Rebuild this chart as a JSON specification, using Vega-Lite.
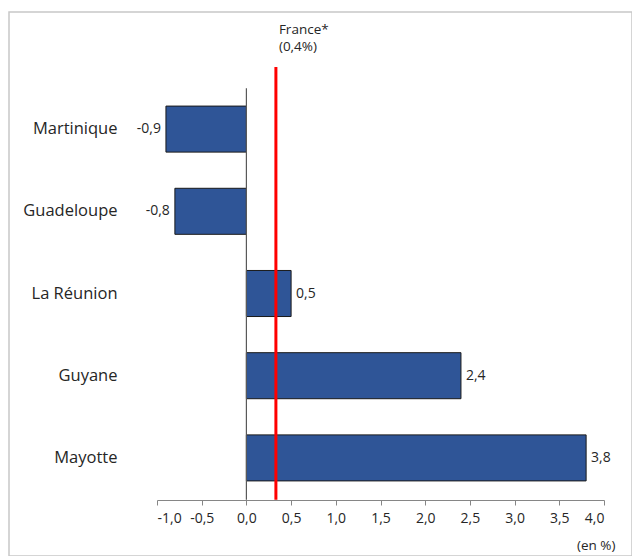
{
  "$schema": "https://vega.github.io/schema/vega-lite/v6.json",
  "width": 623,
  "height": 544,
  "autosize": {"type": "none"},
  "padding": {"left": 9, "top": 12, "right": 0, "bottom": 0},
  "config": {
    "locale": {"number": {"decimal": ",", "thousands": " ", "grouping": [3], "currency": ["", " €"], "minus": "-"}},
    "view": {"stroke": "#c8c8c8", "strokeWidth": 1.5},
    "font": "Open Sans",
    "text": {"font": "Open Sans", "color": "#262626"}
  },
  "datasets": {
    "bars": [
      {"territoire": "Martinique", "v": -0.9},
      {"territoire": "Guadeloupe", "v": -0.8},
      {"territoire": "La Réunion", "v": 0.5},
      {"territoire": "Guyane", "v": 2.4},
      {"territoire": "Mayotte", "v": 3.8}
    ],
    "ref": [{"x": 0.33, "label": "France*\n(0,4%)"}],
    "zero": [{"x": 0}]
  },
  "layer": [
    {
      "data": {"name": "bars"},
      "mark": {"type": "bar", "fill": "#2F5597", "stroke": "#1a1a1a", "strokeWidth": 1},
      "encoding": {
        "y": {
          "field": "territoire", "type": "nominal", "sort": null,
          "scale": {"domain": ["Martinique", "Guadeloupe", "La Réunion", "Guyane", "Mayotte"], "range": [76, 487], "paddingInner": 0.44, "paddingOuter": 0.22},
          "axis": {"title": null, "domain": false, "ticks": false, "offset": -110, "labelPadding": 2, "labelFontSize": 16.5, "labelColor": "#262626", "labelFont": "Open Sans"}
        },
        "x": {
          "field": "v", "type": "quantitative",
          "scale": {"domain": [-1, 4], "range": [148, 595], "nice": false, "zero": false},
          "axis": {
            "values": [-1, -0.5, 0, 0.5, 1, 1.5, 2, 2.5, 3, 3.5, 4],
            "format": ".1f", "grid": false, "offset": -56,
            "domainColor": "#868686", "tickColor": "#868686", "tickSize": 5,
            "labelFontSize": 14, "labelColor": "#262626", "labelPadding": 6, "labelFont": "Open Sans",
            "title": "(en %)", "titleFontSize": 13.5, "titleFontWeight": "normal", "titleColor": "#262626", "titleFont": "Open Sans",
            "titleX": 606, "titleY": 45, "titleAlign": "right", "titleBaseline": "middle", "titleAnchor": null
          }
        }
      }
    },
    {
      "data": {"name": "zero"},
      "mark": {"type": "rule", "color": "#595959", "strokeWidth": 1.2},
      "encoding": {
        "x": {"field": "x", "type": "quantitative"},
        "y": {"datum": "Martinique", "bandPosition": -0.39},
        "y2": {"datum": "Mayotte", "bandPosition": 1.41}
      }
    },
    {
      "data": {"name": "bars"},
      "transform": [{"filter": "datum.v >= 0"}],
      "mark": {"type": "text", "align": "left", "dx": 5, "fontSize": 14},
      "encoding": {
        "y": {"field": "territoire", "type": "nominal", "sort": null},
        "x": {"field": "v", "type": "quantitative"},
        "text": {"field": "v", "type": "quantitative", "format": ".1f"}
      }
    },
    {
      "data": {"name": "bars"},
      "transform": [{"filter": "datum.v < 0"}],
      "mark": {"type": "text", "align": "right", "dx": -5, "fontSize": 14},
      "encoding": {
        "y": {"field": "territoire", "type": "nominal", "sort": null},
        "x": {"field": "v", "type": "quantitative"},
        "text": {"field": "v", "type": "quantitative", "format": ".1f"}
      }
    },
    {
      "data": {"name": "ref"},
      "mark": {"type": "rule", "color": "#FF0000", "strokeWidth": 3},
      "encoding": {
        "x": {"field": "x", "type": "quantitative"},
        "y": {"datum": "Martinique", "bandPosition": -0.85},
        "y2": {"datum": "Mayotte", "bandPosition": 1.41}
      }
    },
    {
      "data": {"name": "ref"},
      "mark": {"type": "text", "align": "left", "baseline": "middle", "dx": 3, "fontSize": 13.5, "lineBreak": "\n", "lineHeight": 17},
      "encoding": {
        "x": {"field": "x", "type": "quantitative"},
        "y": {"datum": "Martinique", "bandPosition": -1.66},
        "text": {"field": "label"}
      }
    }
  ]
}
